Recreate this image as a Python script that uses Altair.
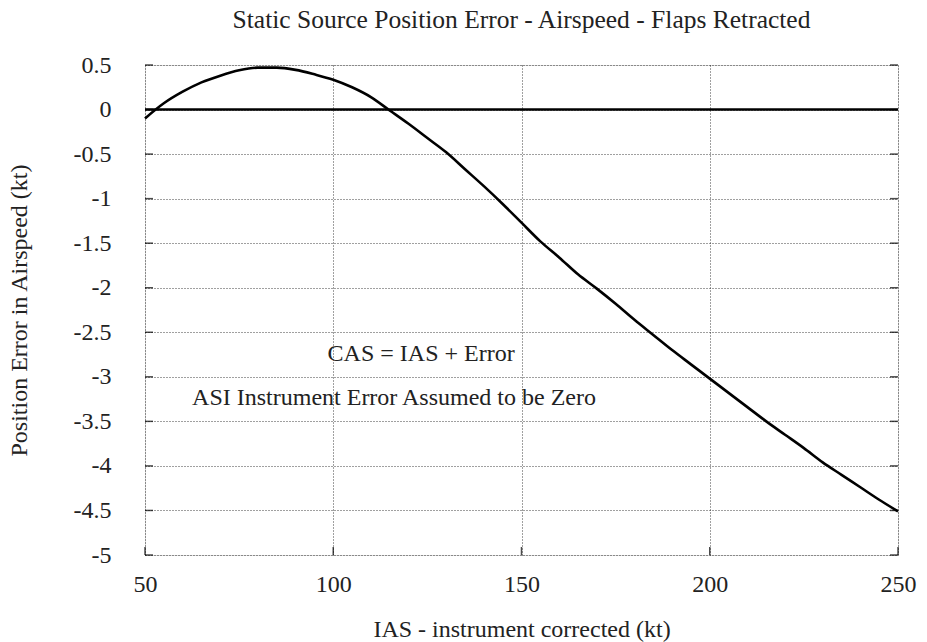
import altair as alt
import pandas as pd

ias = [50, 55, 60, 65, 70, 75, 80, 85, 90, 95, 100, 105, 110, 115, 120, 125, 130,
       135, 140, 145, 150, 155, 160, 165, 170, 175, 180, 185, 190, 195, 200,
       205, 210, 215, 220, 225, 230, 235, 240, 245, 250]
err = [-0.10, 0.07, 0.20, 0.305, 0.38, 0.44, 0.47, 0.47, 0.445, 0.395, 0.335, 0.25, 0.14,
       -0.01, -0.16, -0.32, -0.48, -0.67, -0.86, -1.06, -1.27, -1.48, -1.66, -1.85,
       -2.01, -2.18, -2.36, -2.53, -2.70, -2.86, -3.02, -3.18, -3.34, -3.50, -3.65,
       -3.80, -3.96, -4.10, -4.24, -4.38, -4.51]

x_ticks = [50, 100, 150, 200, 250]
y_ticks = [0.5, 0, -0.5, -1, -1.5, -2, -2.5, -3, -3.5, -4, -4.5, -5]

notes = ["CAS = IAS + Error", "ASI Instrument Error Assumed to be Zero"]
note_x = [98.5, 62.5]
note_y = [-2.74, -3.24]

FONT = "'Liberation Serif', 'Times New Roman', Times, serif"
FS = 24
TXT = "#222"

df = pd.DataFrame({"ias": ias, "err": err})
notes_df = pd.DataFrame({"text": notes, "x": note_x, "y": note_y})

xs = alt.Scale(domain=[50, 250], nice=False, zero=False)
ys = alt.Scale(domain=[-5, 0.5], nice=False, zero=False)

xaxis = alt.Axis(values=x_ticks, grid=True, gridDash=[1, 2], gridColor="black",
                 gridOpacity=0.75, tickSize=0, domain=False, labelPadding=17,
                 labelFontSize=FS, labelFont=FONT, labelColor=TXT,
                 labelExpr="toString(datum.value)",
                 title="IAS - instrument corrected (kt)", titleFont=FONT,
                 titleFontSize=FS, titleFontWeight="normal", titleColor=TXT,
                 titlePadding=21, labelFlush=False)
yaxis = alt.Axis(values=y_ticks, grid=True, gridDash=[1, 2], gridColor="black",
                 gridOpacity=0.75, tickSize=0, domain=False, labelPadding=34,
                 labelFontSize=FS, labelFont=FONT, labelColor=TXT,
                 labelExpr="toString(datum.value)",
                 title="Position Error in Airspeed (kt)", titleFont=FONT,
                 titleFontSize=FS, titleFontWeight="normal", titleColor=TXT,
                 titlePadding=42, labelFlush=False)

base = alt.Chart(df)

curve = base.mark_line(color="black", strokeWidth=2.6, interpolate="monotone").encode(
    x=alt.X("ias:Q", scale=xs, axis=xaxis),
    y=alt.Y("err:Q", scale=ys, axis=yaxis),
)

zero = alt.Chart(pd.DataFrame({"z": [0]})).mark_rule(color="black", strokeWidth=2.4).encode(
    y=alt.Y("z:Q", scale=ys)
)

xt_df = pd.DataFrame({"x": x_ticks})
yt_df = pd.DataFrame({"y": y_ticks})
bottom_ticks = alt.Chart(xt_df).mark_tick(color="black", size=8, thickness=1.5, yOffset=-4).encode(
    x=alt.X("x:Q", scale=xs), y=alt.datum(-5, scale=ys))
left_ticks = alt.Chart(yt_df).mark_tick(color="black", size=8, thickness=1.5, xOffset=4,
                                        orient="horizontal").encode(
    y=alt.Y("y:Q", scale=ys), x=alt.datum(50, scale=xs))
right_ticks = alt.Chart(yt_df).mark_tick(color="black", size=8, thickness=1.5, xOffset=-4,
                                         orient="horizontal").encode(
    y=alt.Y("y:Q", scale=ys), x=alt.datum(250, scale=xs))

texts = alt.Chart(notes_df).mark_text(align="left", baseline="middle", font=FONT,
                                      fontSize=FS, color=TXT).encode(
    x=alt.X("x:Q", scale=xs), y=alt.Y("y:Q", scale=ys), text="text:N")

chart = alt.layer(texts, zero, curve, bottom_ticks, left_ticks, right_ticks).properties(
    width=753, height=490,
    title=alt.TitleParams("Static Source Position Error - Airspeed - Flaps Retracted",
                          font=FONT, fontSize=25.5, fontWeight="normal", color=TXT,
                          offset=20, anchor="middle"),
    autosize=alt.AutoSizeParams(type="none"),
    padding={"left": 145, "top": 65, "right": 29, "bottom": 87},
).configure_view(stroke="black", strokeWidth=2).configure(background="white")

chart.save("out.html", embed_options={"renderer": "svg", "actions": False})
